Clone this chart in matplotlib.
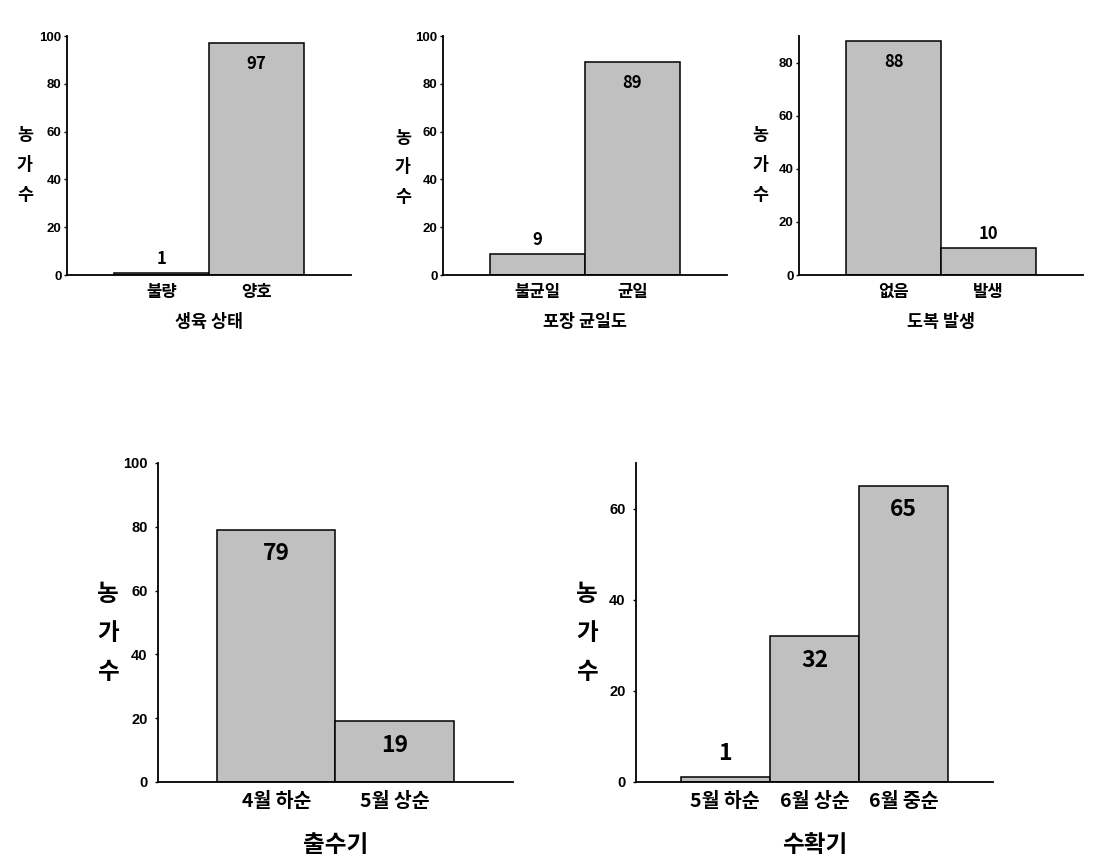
import matplotlib
matplotlib.use('Agg')
from matplotlib import pyplot as plt

plt.rcParams['font.family'] = ['Noto Sans CJK KR', 'DejaVu Sans']

# data
growth_cats = ['불량', '양호']
growth_vals = [1, 97]
uniform_cats = ['불균일', '균일']
uniform_vals = [9, 89]
lodging_cats = ['없음', '발생']
lodging_vals = [88, 10]
heading_cats = ['4월 하순', '5월 상순']
heading_vals = [79, 19]
harvest_cats = ['5월 하순', '6월 상순', '6월 중순']
harvest_vals = [1, 32, 65]

kr = ['Noto Sans CJK KR', 'DejaVu Sans']
num = ['Liberation Sans', 'DejaVu Sans']

panels = [
    # cats, vals, xlabel, rect, ymax, yticks, top row?, ylabel x, ylabel y
    (growth_cats, growth_vals, '생육 상태', [0.0603, 0.6824, 0.2556, 0.2760], 100, range(0, 101, 20), True, -0.148, 0.46),
    (uniform_cats, uniform_vals, '포장 균일도', [0.3987, 0.6824, 0.2556, 0.2760], 100, range(0, 101, 20), True, -0.141, 0.45),
    (lodging_cats, lodging_vals, '도복 발생', [0.7192, 0.6824, 0.2556, 0.2760], 90, range(0, 81, 20), True, -0.137, 0.46),
    (heading_cats, heading_vals, '출수기', [0.1422, 0.0970, 0.3195, 0.3684], 100, range(0, 101, 20), False, -0.141, 0.467),
    (harvest_cats, harvest_vals, '수확기', [0.5725, 0.0970, 0.3213, 0.3684], 70, range(0, 61, 20), False, -0.137, 0.467),
]

fig = plt.figure(figsize=(11.11, 8.66), dpi=100)

for cats, vals, xlab, rect, ymax, yt, small, ylx, yly in panels:
    ax = fig.add_axes(rect)
    x = list(range(len(cats)))
    ax.bar(x, vals, width=1.0, color='#c0c0c0', edgecolor='black', linewidth=1.1)
    ax.set_xlim(-1, len(cats))
    ax.set_ylim(0, ymax)
    ax.set_yticks(list(yt))
    ax.set_xticks(x)

    tick_fs = 9.5 if small else 10.5
    cat_fs = 12 if small else 14
    lab_fs = 12.5 if small else 17
    val_fs = 12 if small else 16.5

    ax.set_xticklabels(cats, fontsize=cat_fs, family=kr, fontweight='bold')
    for t in ax.get_yticklabels():
        t.set_fontsize(tick_fs)
        t.set_fontweight('bold')
        t.set_family(num)
    ax.tick_params(axis='x', length=0, pad=5.5 if small else 7.5)
    ax.tick_params(axis='y', length=2.5, width=1, direction='out', pad=1.5 if small else 5)

    for s in ['top', 'right']:
        ax.spines[s].set_visible(False)
    for s in ['left', 'bottom']:
        ax.spines[s].set_linewidth(1.3)

    ax.set_xlabel(xlab, fontsize=lab_fs, family=kr, fontweight='bold')
    ax.xaxis.set_label_coords(0.5, -0.197 if small else -0.198)
    ax.xaxis.label.set_va('center')
    ax.set_ylabel('농\n가\n수', fontsize=lab_fs, family=kr, fontweight='bold',
                  rotation=0, linespacing=1.85 if small else 1.8)
    ax.yaxis.set_label_coords(ylx, yly)
    ax.yaxis.label.set_va('center')
    ax.yaxis.label.set_ha('center')

    # value labels: inside the bar for tall bars, above it for short ones
    for xi, v in zip(x, vals):
        if v > 0.15 * ymax:
            off = -21 if small else -24
        else:
            off = 14 if small else 24
        ax.annotate(str(v), (xi, v), xytext=(0, off), textcoords='offset pixels',
                    ha='center', va='center', fontsize=val_fs, family=kr,
                    fontweight='bold')

fig.savefig('out.png', dpi=100)
